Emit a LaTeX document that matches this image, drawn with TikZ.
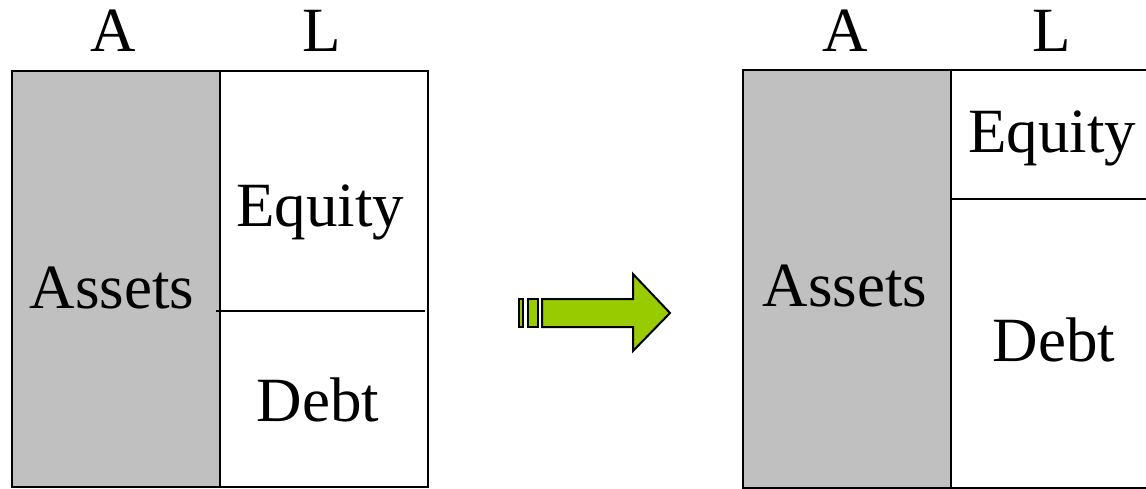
\documentclass[tikz,border=0pt]{standalone}
\usepackage{fontspec}
\setmainfont{Liberation Serif}
\definecolor{assetgray}{RGB}{192,192,192}
\definecolor{arrowgreen}{RGB}{153,204,0}
\tikzset{
  lbl/.style={anchor=base, inner sep=0pt, font=\fontsize{63}{63}\selectfont},
  box/.style={draw=black, line width=2.8pt},
  thinline/.style={draw=black, line width=2.4pt},
  arrowpart/.style={draw=black, fill=arrowgreen, line width=2pt, line join=miter}
}
\begin{document}
\begin{tikzpicture}[x=1pt,y=-1pt]
        \useasboundingbox (0,0) rectangle (1146,489);
        % before
        \draw[box, fill=assetgray] (12,71) rectangle (220,487);
        \draw[thinline] (220,71) rectangle (428,487);
        \draw[thinline] (216,311) -- (425,311);
        \node[lbl] (a1) at (113,52) {A};
        \node[lbl] (l1) at (322,52) {L};
        \node[lbl] (assets1) at (112,308) {Assets};
        \node[lbl] (equity1) at (320,226) {Equity};
        \node[lbl] (debt1) at (318,421) {Debt};
        % arrow
        \draw[arrowpart] (519,299) rectangle (523,327);
        \draw[arrowpart] (528,299) rectangle (538,327);
        \draw[arrowpart]
            (542,299) -- (633,299) -- (633,274) -- (670,313) -- (633,351)
            -- (633,327) -- (542,327) -- cycle;
        % after
        \draw[box, fill=assetgray] (743,70) rectangle (951,488);
        \draw[thinline] (951,70) -- (1150,70);
        \draw[thinline] (951,488) -- (1150,488);
        \draw[thinline] (951,199) -- (1150,199);
        \node[lbl] (a2) at (845,52) {A};
        \node[lbl] (l2) at (1052,52) {L};
        \node[lbl] (assets2) at (845,306) {Assets};
        \node[lbl] (equity2) at (1052,153) {Equity};
        \node[lbl] (debt2) at (1054,361) {Debt};
\end{tikzpicture}
\end{document}
